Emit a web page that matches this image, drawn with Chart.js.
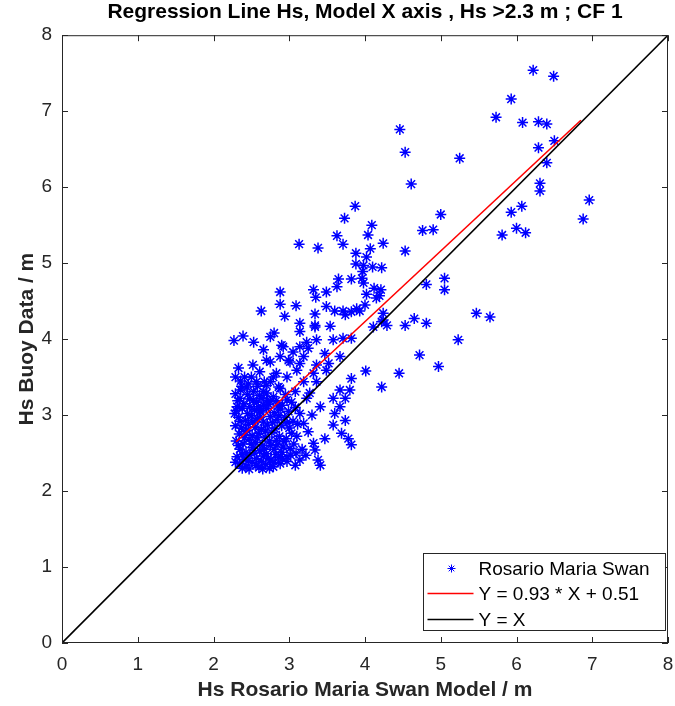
<!DOCTYPE html>
<html>
<head>
<meta charset="utf-8">
<script src="https://cdn.jsdelivr.net/npm/chart.js@4.4.1/dist/chart.umd.min.js"></script>
<style>
  body { margin: 0; background: #fff; }
</style>
</head>
<body>
<canvas id="chart" width="675" height="706"></canvas>
<script>
// model Hs (x) vs buoy Hs (y)
const swanPoints = [
  [6.22, 7.54], [6.49, 7.46], [5.93, 7.16], [5.73, 6.92], [6.08, 6.85], [6.29, 6.86],
  [6.40, 6.83], [6.50, 6.61], [6.29, 6.52], [6.40, 6.32], [6.31, 6.05], [6.31, 5.95],
  [6.96, 5.83], [6.88, 5.58], [6.07, 5.75], [5.93, 5.67], [6.00, 5.46], [6.12, 5.40],
  [5.81, 5.37], [5.25, 6.38], [4.53, 6.46], [4.46, 6.76], [4.61, 6.04], [5.00, 5.64],
  [4.76, 5.43], [4.90, 5.44], [4.53, 5.16], [4.81, 4.72], [5.05, 4.80], [5.05, 4.65],
  [5.47, 4.34], [5.65, 4.29], [5.23, 3.99], [4.65, 4.27], [4.53, 4.18], [4.81, 4.21],
  [4.72, 3.79], [4.97, 3.64],
  [3.87, 5.75], [3.73, 5.59], [4.09, 5.50], [3.63, 5.36], [4.04, 5.37], [3.71, 5.25],
  [3.13, 5.25], [3.38, 5.20], [4.24, 5.26], [4.07, 5.19], [3.88, 5.13], [4.02, 5.08],
  [3.88, 4.99], [3.98, 4.97], [4.10, 4.95], [4.22, 4.94], [3.97, 4.89], [3.96, 4.80],
  [3.82, 4.79], [3.65, 4.79], [3.98, 4.74], [3.63, 4.69], [2.88, 4.62], [3.32, 4.65],
  [3.49, 4.62], [4.12, 4.67], [4.21, 4.65], [4.02, 4.59], [4.19, 4.57], [3.35, 4.55],
  [2.88, 4.46], [3.09, 4.44], [2.63, 4.37], [3.49, 4.43], [4.15, 4.54], [4.00, 4.45],
  [3.89, 4.40], [3.60, 4.37], [3.71, 4.37], [3.82, 4.36], [3.93, 4.37], [3.34, 4.33],
  [2.94, 4.30],
  [2.27, 3.98], [2.39, 4.04], [2.53, 3.96], [2.80, 4.08], [2.75, 4.03], [3.14, 4.10],
  [3.34, 4.16], [3.54, 4.17], [3.36, 3.99], [3.58, 3.99], [3.71, 4.01], [3.82, 4.01],
  [4.11, 4.16], [4.22, 4.23], [4.29, 4.18], [2.66, 3.86], [2.92, 3.90], [3.14, 3.90],
  [3.23, 3.96], [2.70, 3.72], [2.88, 3.77], [3.01, 3.70], [3.19, 3.77], [3.36, 3.66],
  [3.52, 3.68], [3.67, 3.77], [4.01, 3.58], [4.45, 3.55], [3.82, 3.48], [4.22, 3.37],
  [2.61, 3.57], [2.79, 3.50], [2.97, 3.50], [3.10, 3.59], [2.57, 3.44], [2.44, 3.37],
  [2.70, 3.39], [2.86, 3.37],
  [3.14, 4.21], [3.34, 4.18], [3.74, 4.32], [4.24, 4.34], [4.24, 4.25], [2.90, 3.92],
  [3.05, 3.83], [3.25, 3.88], [3.47, 3.81], [2.75, 3.70], [2.99, 3.72], [3.14, 3.68],
  [2.83, 3.55], [3.32, 3.55], [3.49, 3.59], [2.75, 3.44], [3.19, 3.44], [3.36, 3.44],
  [3.67, 3.33], [3.80, 3.33], [2.66, 3.31], [2.88, 3.35], [3.08, 3.31], [3.27, 3.29],
  [2.35, 3.22], [2.53, 3.20], [2.75, 3.18], [2.97, 3.20], [3.23, 3.22], [3.58, 3.22],
  [3.74, 3.22], [2.31, 3.11], [2.48, 3.11], [2.66, 3.13], [3.41, 3.11], [3.67, 3.11],
  [3.60, 3.02], [3.74, 2.93], [3.58, 2.87], [3.25, 2.78], [3.47, 2.69], [3.69, 2.76],
  [3.78, 2.69], [3.82, 2.61], [3.32, 2.63], [3.34, 2.54], [3.38, 2.41], [3.41, 2.34],
  [3.14, 2.41], [3.08, 2.34], [3.30, 3.00], [3.14, 3.02], [3.19, 2.89], [3.03, 2.76],
  [2.88, 2.36], [2.79, 2.32], [2.97, 2.45],
  [2.33, 3.62], [2.41, 3.50], [2.52, 3.66], [2.36, 3.45],
  [2.29, 3.28], [2.36, 3.33], [2.45, 3.27], [2.53, 3.31], [2.61, 3.26], [2.70, 3.29],
  [2.79, 3.24], [2.95, 3.27], [2.32, 3.19], [2.40, 3.15], [2.48, 3.21], [2.57, 3.17],
  [2.64, 3.22], [2.73, 3.14], [2.83, 3.19], [2.91, 3.13], [3.03, 3.17], [2.30, 3.06],
  [2.38, 3.09], [2.45, 3.02], [2.54, 3.07], [2.62, 3.04], [2.70, 3.09], [2.80, 3.03],
  [2.88, 3.08], [2.99, 3.05], [3.08, 3.10], [2.33, 2.97], [2.42, 2.93], [2.50, 2.99],
  [2.58, 2.95], [2.66, 2.91], [2.75, 2.98], [2.84, 2.94], [2.94, 2.97], [3.05, 2.92],
  [2.29, 2.86], [2.37, 2.83], [2.46, 2.88], [2.55, 2.84], [2.63, 2.81], [2.71, 2.87],
  [2.81, 2.82], [2.90, 2.86], [3.00, 2.83], [3.11, 2.88], [2.34, 2.75], [2.42, 2.78],
  [2.51, 2.73], [2.59, 2.76], [2.68, 2.71], [2.77, 2.77], [2.87, 2.72], [2.96, 2.69],
  [2.30, 2.66], [2.39, 2.62], [2.47, 2.68], [2.56, 2.64], [2.65, 2.60], [2.74, 2.66],
  [2.84, 2.61], [2.93, 2.65], [3.06, 2.62], [2.35, 2.55], [2.43, 2.51], [2.52, 2.57],
  [2.61, 2.53], [2.70, 2.49], [2.80, 2.55], [2.90, 2.51], [3.01, 2.56], [2.31, 2.45],
  [2.40, 2.42], [2.48, 2.47], [2.57, 2.43], [2.66, 2.46], [2.76, 2.41], [2.86, 2.44],
  [2.97, 2.39], [2.34, 2.36], [2.43, 2.33], [2.51, 2.38], [2.60, 2.31], [2.69, 2.35],
  [2.80, 2.38], [2.38, 2.30], [2.47, 2.29], [2.56, 2.34], [2.65, 2.29], [2.74, 2.30],
  [2.28, 3.02], [2.35, 2.92], [2.44, 2.80], [2.52, 2.91], [2.61, 2.97], [2.69, 2.79],
  [2.78, 2.90], [2.86, 2.99], [2.33, 2.60], [2.41, 2.70], [2.50, 2.62], [2.58, 2.70],
  [2.67, 2.55], [2.75, 2.60], [2.83, 2.67], [2.92, 2.58], [2.38, 2.48], [2.46, 2.40],
  [2.54, 2.50], [2.63, 2.39], [2.72, 2.43], [2.82, 2.48], [2.91, 2.43], [3.02, 2.47],
  [2.29, 2.38], [2.37, 3.38], [2.46, 3.41], [2.58, 3.38], [2.67, 3.44], [2.29, 3.50],
  [2.50, 3.50], [2.62, 3.06], [2.71, 3.20], [2.59, 3.11], [2.85, 3.12], [2.97, 2.90],
  [3.10, 2.72], [3.17, 2.55], [3.22, 2.47], [3.09, 2.50],
];

const regSlope = 0.93;
const regIntercept = 0.51;
const regX = [2.3, 6.85];
const identityX = [0, 8];
const axisTicks = [0, 1, 2, 3, 4, 5, 6, 7, 8];
const legendLabels = ["Rosario Maria Swan", "Y = 0.93 * X + 0.51", "Y = X"];

const FONT = "'Liberation Sans', Arial, sans-serif";
const AXIS_COLOR = "#262626";

// MATLAB style box with inward ticks, plus the legend in the corner
const matlabAxes = {
  id: "matlabAxes",
  afterDraw(chart) {
    const { ctx, chartArea: a, scales } = chart;
    ctx.save();
    ctx.strokeStyle = AXIS_COLOR;
    ctx.lineWidth = 1;
    ctx.strokeRect(a.left + 0.5, a.top + 0.5, a.right - a.left - 1, a.bottom - a.top - 1);
    ctx.beginPath();
    axisTicks.forEach((t) => {
      const px = Math.round(scales.x.getPixelForValue(t)) + 0.5;
      ctx.moveTo(px, a.bottom);
      ctx.lineTo(px, a.bottom - 6);
      ctx.moveTo(px, a.top);
      ctx.lineTo(px, a.top + 6);
      const py = Math.round(scales.y.getPixelForValue(t)) + 0.5;
      ctx.moveTo(a.left, py);
      ctx.lineTo(a.left + 6, py);
      ctx.moveTo(a.right, py);
      ctx.lineTo(a.right - 6, py);
    });
    ctx.stroke();

    // legend box
    const w = 242, h = 77;
    const bx = Math.round(a.right - 3 - w) + 0.5;
    const by = Math.round(a.bottom - 13 - h) + 0.5;
    ctx.fillStyle = "#fff";
    ctx.fillRect(bx, by, w, h);
    ctx.strokeRect(bx, by, w, h);

    const rows = [15, 40, 66];
    const sets = chart.data.datasets;
    ctx.font = "19px " + FONT;
    ctx.textBaseline = "middle";
    ctx.textAlign = "left";
    rows.forEach((ry, i) => {
      const yy = by + ry;
      const ds = sets[i];
      if (i === 0) {
        const cx = bx + 28, r = 4;
        ctx.strokeStyle = ds.borderColor;
        ctx.beginPath();
        ctx.moveTo(cx - r, yy); ctx.lineTo(cx + r, yy);
        ctx.moveTo(cx, yy - r); ctx.lineTo(cx, yy + r);
        const d = r * 0.7;
        ctx.moveTo(cx - d, yy - d); ctx.lineTo(cx + d, yy + d);
        ctx.moveTo(cx - d, yy + d); ctx.lineTo(cx + d, yy - d);
        ctx.stroke();
      } else {
        ctx.strokeStyle = ds.borderColor;
        ctx.lineWidth = 1.5;
        ctx.beginPath();
        ctx.moveTo(bx + 4, yy);
        ctx.lineTo(bx + 50, yy);
        ctx.stroke();
        ctx.lineWidth = 1;
      }
      ctx.fillStyle = "#000";
      ctx.fillText(legendLabels[i], bx + 55, yy + 1);
    });
    ctx.restore();
  },
};

const ctx = document.getElementById("chart").getContext("2d");

new Chart(ctx, {
  type: "scatter",
  data: {
    datasets: [
      {
        label: legendLabels[0],
        data: swanPoints.map(([x, y]) => ({ x, y })),
        pointStyle: "star",
        pointRadius: 5.5,
        borderColor: "#0000ff",
        backgroundColor: "#0000ff",
        borderWidth: 1.5,
        order: 3,
      },
      {
        label: legendLabels[1],
        data: regX.map((x) => ({ x, y: regSlope * x + regIntercept })),
        showLine: true,
        borderColor: "#ff0000",
        borderWidth: 1.6,
        pointRadius: 0,
        order: 2,
      },
      {
        label: legendLabels[2],
        data: identityX.map((x) => ({ x, y: x })),
        showLine: true,
        borderColor: "#000000",
        borderWidth: 1.6,
        pointRadius: 0,
        order: 1,
      },
    ],
  },
  options: {
    responsive: false,
    animation: false,
    layout: { padding: { right: 7 } },
    plugins: {
      legend: { display: false },
      tooltip: { enabled: false },
      title: {
        display: true,
        fullSize: false,
        text: "Regression Line Hs, Model X axis , Hs >2.3 m ; CF 1",
        color: "#000",
        font: { family: FONT, size: 21, weight: "bold" },
        padding: { top: 0, bottom: 10 },
      },
    },
    scales: {
      x: {
        type: "linear",
        min: 0,
        max: 8,
        grid: { display: false, drawTicks: false },
        border: { display: false },
        ticks: {
          stepSize: 1,
          padding: 10,
          color: AXIS_COLOR,
          font: { family: FONT, size: 19 },
        },
        title: {
          display: true,
          text: "Hs Rosario Maria Swan Model / m",
          color: AXIS_COLOR,
          font: { family: FONT, size: 21, weight: "bold" },
          padding: { bottom: 3 },
        },
        afterFit(scale) {
          scale.height = 63;
          scale.paddingRight = 0;
          scale.paddingLeft = 0;
        },
      },
      y: {
        type: "linear",
        min: 0,
        max: 8,
        grid: { display: false, drawTicks: false },
        border: { display: false },
        ticks: {
          stepSize: 1,
          padding: 10,
          color: AXIS_COLOR,
          font: { family: FONT, size: 19 },
        },
        title: {
          display: true,
          text: "Hs Buoy Data / m",
          color: AXIS_COLOR,
          font: { family: FONT, size: 21, weight: "bold" },
          padding: { top: 15 },
        },
        afterFit(scale) {
          scale.width = 62;
          scale.paddingTop = 0;
          scale.paddingBottom = 0;
        },
      },
    },
  },
  plugins: [matlabAxes],
});
</script>
</body>
</html>
